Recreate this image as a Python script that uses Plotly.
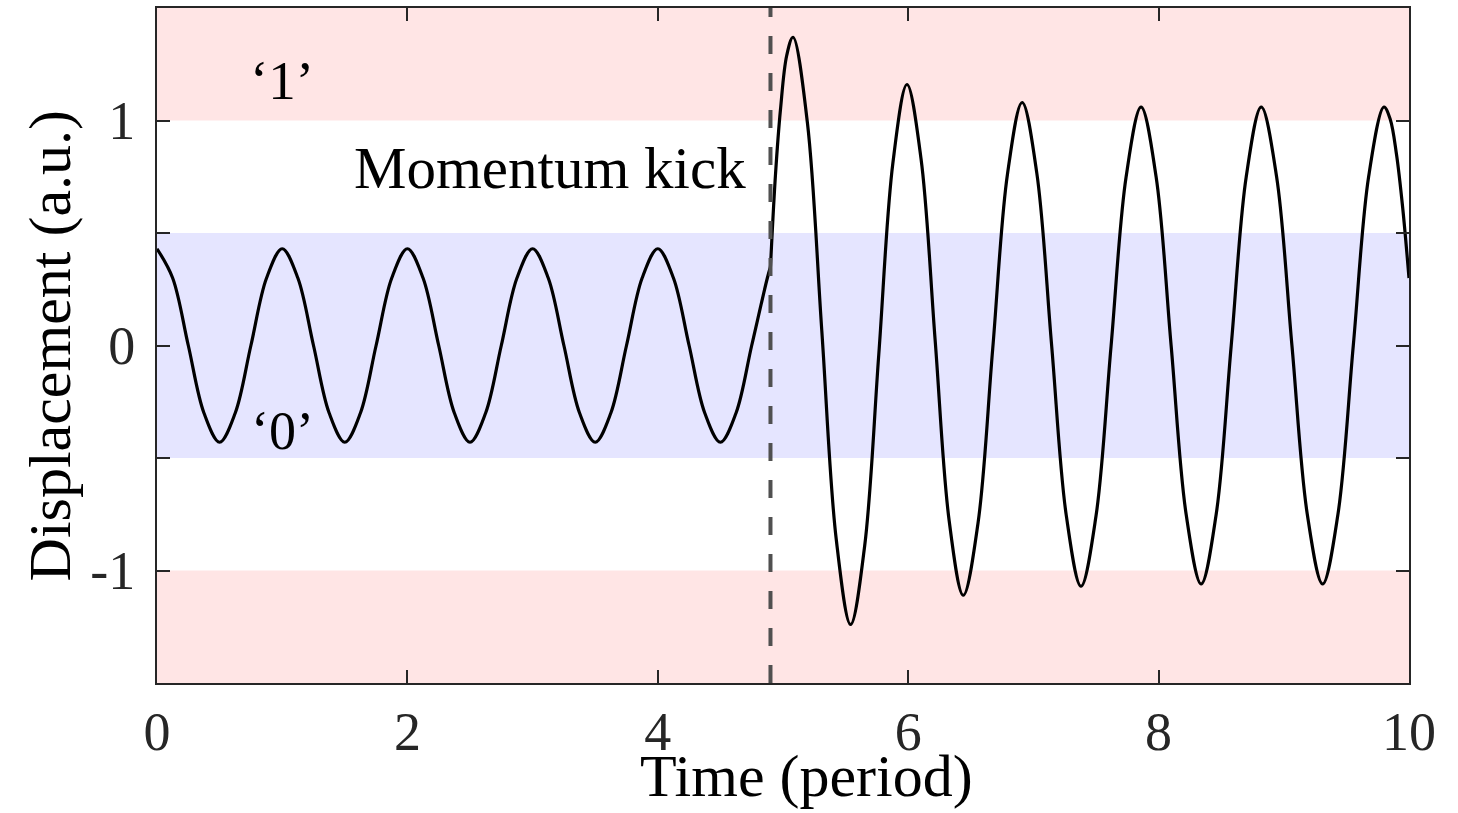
import plotly.graph_objects as go

# ---- data ----
kick_time = 4.9

# before the kick: small oscillation inside the '0' band
t_pre = [0.0, 0.125, 0.25, 0.375, 0.5, 0.625, 0.75, 0.875,
         1.0, 1.125, 1.25, 1.375, 1.5, 1.625, 1.75, 1.875,
         2.0, 2.125, 2.25, 2.375, 2.5, 2.625, 2.75, 2.875,
         3.0, 3.125, 3.25, 3.375, 3.5, 3.625, 3.75, 3.875,
         4.0, 4.125, 4.25, 4.375, 4.5, 4.625, 4.75, 4.875, 4.9]
y_pre = [0.43, 0.30, 0.0, -0.30, -0.43, -0.30, 0.0, 0.30,
         0.43, 0.30, 0.0, -0.30, -0.43, -0.30, 0.0, 0.30,
         0.43, 0.30, 0.0, -0.30, -0.43, -0.30, 0.0, 0.30,
         0.43, 0.30, 0.0, -0.30, -0.43, -0.30, 0.0, 0.30,
         0.43, 0.30, 0.0, -0.30, -0.43, -0.30, 0.0, 0.30, 0.35]

# after the kick: large oscillation reaching the '1' bands
t_post = [4.9, 4.94, 4.98, 5.03, 5.08,
          5.195, 5.31, 5.425, 5.54,
          5.6525, 5.765, 5.8775, 5.99,
          6.1025, 6.215, 6.3275, 6.44,
          6.5575, 6.675, 6.7925, 6.91,
          7.0275, 7.145, 7.2625, 7.38,
          7.50, 7.62, 7.74, 7.86,
          7.98, 8.10, 8.22, 8.34,
          8.46, 8.58, 8.70, 8.82,
          8.9425, 9.065, 9.1875, 9.31,
          9.4325, 9.555, 9.6775, 9.80,
          9.85, 9.90, 9.95, 10.0]
y_post = [0.35, 0.76, 1.05, 1.29, 1.37,
          0.99, 0.065, -0.86, -1.24,
          -0.89, -0.04, 0.81, 1.16,
          0.83, 0.025, -0.78, -1.11,
          -0.79, -0.015, 0.76, 1.08,
          0.765, 0.005, -0.755, -1.07,
          -0.758, -0.005, 0.748, 1.06,
          0.75, 0.0, -0.75, -1.06,
          -0.75, 0.0, 0.75, 1.06,
          0.75, 0.0, -0.75, -1.06,
          -0.75, 0.0, 0.75, 1.06,
          1.006, 0.85, 0.61, 0.30]

band_one_upper = [1.0, 1.5]
band_one_lower = [-1.5, -1.0]
band_zero = [-0.5, 0.5]

x_ticks = [0, 2, 4, 6, 8, 10]
y_ticks = [-1.5, -1, -0.5, 0, 0.5, 1, 1.5]
y_ticktext = ["", "-1", "", "0", "", "1", ""]

FONT = "Liberation Serif, Times New Roman, serif"
AX = "#262626"

fig = go.Figure()
for tx, ty in [(t_pre, y_pre), (t_post, y_post)]:
    fig.add_trace(go.Scatter(x=tx, y=ty, mode="lines",
                             line=dict(color="#000000", width=3.2, shape="spline", smoothing=1.0),
                             showlegend=False, hoverinfo="skip"))

for lo, hi, col in [(band_one_upper[0], band_one_upper[1], "rgba(255,0,0,0.1)"),
                    (band_one_lower[0], band_one_lower[1], "rgba(255,0,0,0.1)"),
                    (band_zero[0], band_zero[1], "rgba(0,0,255,0.1)")]:
    fig.add_shape(type="rect", xref="paper", yref="y", x0=0, x1=1, y0=lo, y1=hi,
                  fillcolor=col, line=dict(width=0), layer="below")

fig.add_shape(type="line", xref="x", yref="paper", x0=kick_time, x1=kick_time, y0=0, y1=1,
              line=dict(color="#505050", width=4, dash="18px,19px"), layer="above")

fig.add_annotation(x=4.72, y=0.79, xref="x", yref="y", text="Momentum kick",
                   showarrow=False, xanchor="right", yanchor="middle",
                   font=dict(family=FONT, size=59, color="#000000"))
fig.add_annotation(x=1.0, y=1.18, xref="x", yref="y", text="\u20181\u2019",
                   showarrow=False, xanchor="center", yanchor="middle",
                   font=dict(family=FONT, size=55, color="#000000"))
fig.add_annotation(x=1.0, y=-0.38, xref="x", yref="y", text="\u20180\u2019",
                   showarrow=False, xanchor="center", yanchor="middle",
                   font=dict(family=FONT, size=54, color="#000000"))

# axis titles
fig.add_annotation(x=0.519, y=-0.086, xref="paper", yref="paper", text="Time (period)",
                   showarrow=False, xanchor="center", yanchor="top",
                   font=dict(family=FONT, size=60, color="#000000"))
fig.add_annotation(x=-0.0855, y=0.5, xref="paper", yref="paper", text="Displacement (a.u.)",
                   showarrow=False, xanchor="center", yanchor="middle", textangle=-90,
                   font=dict(family=FONT, size=60, color="#000000"))

fig.update_layout(
    width=1458, height=813,
    margin=dict(l=157, r=49, t=8, b=130),
    paper_bgcolor="white", plot_bgcolor="white",
    font=dict(family=FONT, color=AX),
)
fig.update_xaxes(range=[0, 10], tickvals=x_ticks, ticks="inside", ticklen=13, tickwidth=1.5,
                 tickcolor=AX, showline=True, linecolor=AX, linewidth=2, mirror="ticks",
                 showgrid=False, zeroline=False, ticklabelstandoff=0, automargin=False,
                 tickfont=dict(family=FONT, size=54, color=AX))
fig.update_yaxes(range=[-1.5, 1.5], tickvals=y_ticks, ticktext=y_ticktext, ticks="inside",
                 ticklen=13, tickwidth=1.5, tickcolor=AX, showline=True, linecolor=AX,
                 linewidth=2, mirror="ticks", showgrid=False, zeroline=False,
                 ticklabelstandoff=9, automargin=False,
                 tickfont=dict(family=FONT, size=54, color=AX))

fig.write_html("out.html")
